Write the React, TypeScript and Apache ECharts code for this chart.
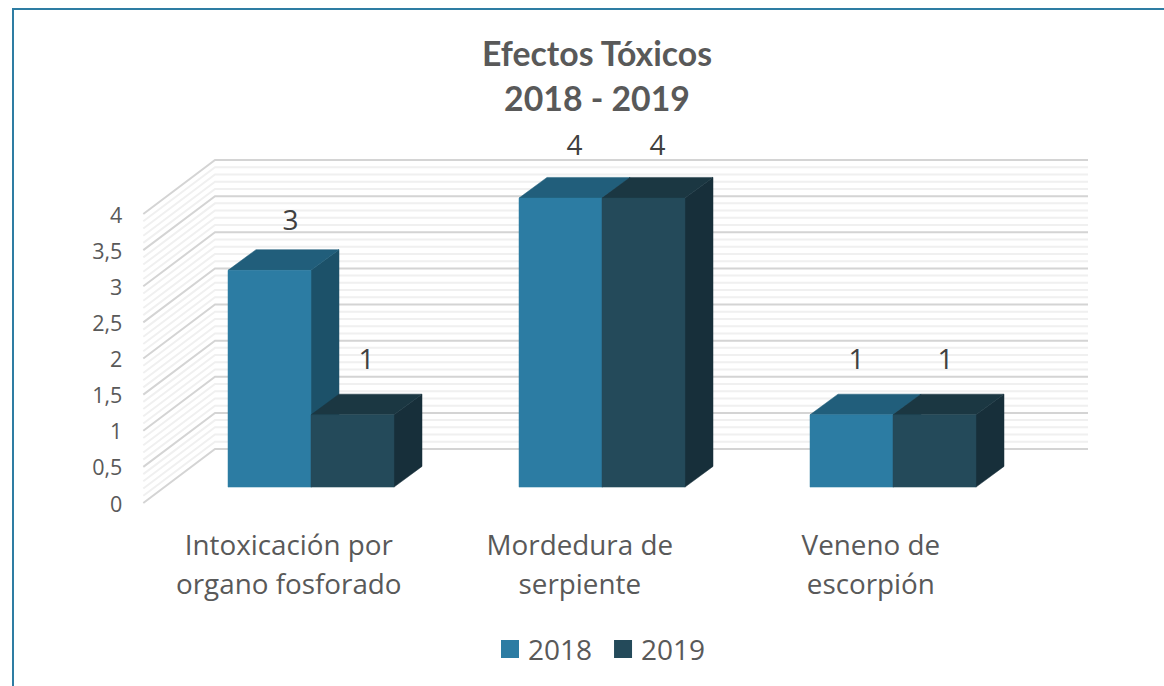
import React, { useEffect, useRef } from "react";
import * as echarts from "echarts";

const categories = ["Intoxicación por\norgano fosforado", "Mordedura de\nserpiente", "Veneno de\nescorpión"];
const values2018 = [3, 4, 1];
const values2019 = [1, 4, 1];
const majorTicks = [0, 0.5, 1, 1.5, 2, 2.5, 3, 3.5, 4];
const minorSteps = [0.1, 0.2, 0.3, 0.4];

const FONT = '"Open Sans", sans-serif';
const TITLE_FONT = "Lato, sans-serif";
const WALL_DX = 71.7;
const WALL_DY = -54;
const BAR_DX = 22.2;
const BAR_DY = -15.9;
const DEPTH_DX = 28;
const DEPTH_DY = -20.7;
const BAR_W = 83;
// hand-placed data labels in the reference, [dx, dy] from the front face's top centre
const labelNudge2018 = [[21, -51], [14, -54], [5, -57]];
const labelNudge2019 = [[14, -57], [14, -54], [11, -57]];

function wallRender(params: any, api: any) {
  const level = api.value(0);
  const major = api.value(1) === 1;
  const p0 = api.coord([0, level]);
  const band = api.size([1, 0])[0];
  const xL = p0[0] - band / 2;
  const xR = xL + band * categories.length;
  const y = p0[1];
  return {
    type: "polyline",
    shape: { points: [[xL, y], [xL + WALL_DX, y + WALL_DY], [xR + WALL_DX, y + WALL_DY]] },
    style: { fill: "none", stroke: major ? "#D4D4D4" : "#F0F0F0", lineWidth: 2 },
    silent: true,
    z2: major ? 2 : 1,
  };
}

function barRender(colors: string[], side: number, nudges: number[][], fontSize = 28) {
  return (params: any, api: any) => {
    const i = api.value(0);
    const v = api.value(1);
    const top = api.coord([i, v]);
    const base = api.coord([i, 0]);
    const x0 = top[0] + BAR_DX + (side === 0 ? -BAR_W : 0);
    const x1 = x0 + BAR_W;
    const yT = top[1] + BAR_DY;
    const yB = base[1] + BAR_DY;
    const [front, topC, sideC] = colors;
    const poly = (pts: number[][], c: string) => ({
      type: "polygon",
      shape: { points: pts },
      style: { fill: c, stroke: c, lineWidth: 0.5 },
    });
    const [nx, ny] = nudges[i];
    return {
      type: "group",
      children: [
        poly([[x1, yT], [x1 + DEPTH_DX, yT + DEPTH_DY], [x1 + DEPTH_DX, yB + DEPTH_DY], [x1, yB]], sideC),
        poly([[x0, yT], [x0 + DEPTH_DX, yT + DEPTH_DY], [x1 + DEPTH_DX, yT + DEPTH_DY], [x1, yT]], topC),
        poly([[x0, yT], [x1, yT], [x1, yB], [x0, yB]], front),
        {
          type: "text",
          x: (x0 + x1) / 2 + nx,
          y: yT + ny,
          style: {
            text: String(v),
            fill: "#404040",
            font: `${fontSize}px ${FONT}`,
            align: "center",
            verticalAlign: "middle",
          },
        },
      ],
    };
  };
}

const wallLevels: number[][] = [];
majorTicks.forEach((t) => {
  wallLevels.push([t, 1]);
  if (t < 4) minorSteps.forEach((m) => wallLevels.push([t + m, 0]));
});

export default function App() {
  const ref = useRef<HTMLDivElement>(null);
  useEffect(() => {
    const chart = echarts.init(ref.current!, undefined, { renderer: "svg" });
    chart.setOption({
      animation: false,
      backgroundColor: "#FFFFFF",
      textStyle: { fontFamily: FONT },
      title: {
        text: "Efectos Tóxicos\n2018 - 2019",
        left: 592,
        top: 25,
        textAlign: "center",
        textStyle: { fontFamily: TITLE_FONT, fontSize: 33.8, fontWeight: "bold", color: "#595959", lineHeight: 45 },
      },
      legend: {
        data: ["2018", "2019"],
        left: 496,
        top: 630,
        icon: "rect",
        itemWidth: 18,
        itemHeight: 18,
        itemGap: 22,
        textStyle: { fontFamily: FONT, fontSize: 28, color: "#595959", padding: [0, 0, 0, 4] },
      },
      grid: { left: 143.3, top: 214, width: 873, height: 289 },
      xAxis: {
        type: "category",
        data: categories,
        axisLine: { show: false },
        axisTick: { show: false },
        splitLine: { show: false },
        axisLabel: {
          interval: 0,
          color: "#595959",
          fontFamily: FONT,
          fontSize: 27.8,
          lineHeight: 39,
          margin: 21,
          align: "center",
        },
      },
      yAxis: {
        type: "value",
        min: 0,
        max: 4,
        interval: 0.5,
        axisLine: { show: false },
        axisTick: { show: false },
        splitLine: { show: false },
        axisLabel: {
          color: "#595959",
          fontFamily: FONT,
          fontSize: 21.5,
          margin: 21,
          padding: [4, 0, 0, 0],
          formatter: (v: number) => String(v).replace(".", ","),
        },
      },
      series: [
        {
          type: "custom",
          name: "walls",
          silent: true,
          data: wallLevels,
          renderItem: wallRender,
          encode: { y: 0 },
          z: 1,
        },
        {
          type: "custom",
          name: "2018",
          data: values2018.map((v, i) => [i, v]),
          encode: { x: 0, y: 1 },
          itemStyle: { color: "#2C7CA3" },
          renderItem: barRender(["#2C7CA3", "#215E7B", "#1C5169"], 0, labelNudge2018),
          z: 2,
        },
        {
          type: "custom",
          name: "2019",
          data: values2019.map((v, i) => [i, v]),
          encode: { x: 0, y: 1 },
          itemStyle: { color: "#244A5A" },
          renderItem: barRender(["#244A5A", "#1B3742", "#172F3A"], 1, labelNudge2019),
          z: 3,
        },
      ],
      graphic: [
        {
          type: "polyline",
          shape: { points: [[13, 686], [13, 9], [1164, 9]] },
          style: { fill: "none", stroke: "#2E7DA3", lineWidth: 2 },
          silent: true,
        },
      ],
    });
    return () => chart.dispose();
  }, []);
  return <div ref={ref} style={{ position: "absolute", left: 0, top: 0, width: 1164, height: 686 }} />;
}
